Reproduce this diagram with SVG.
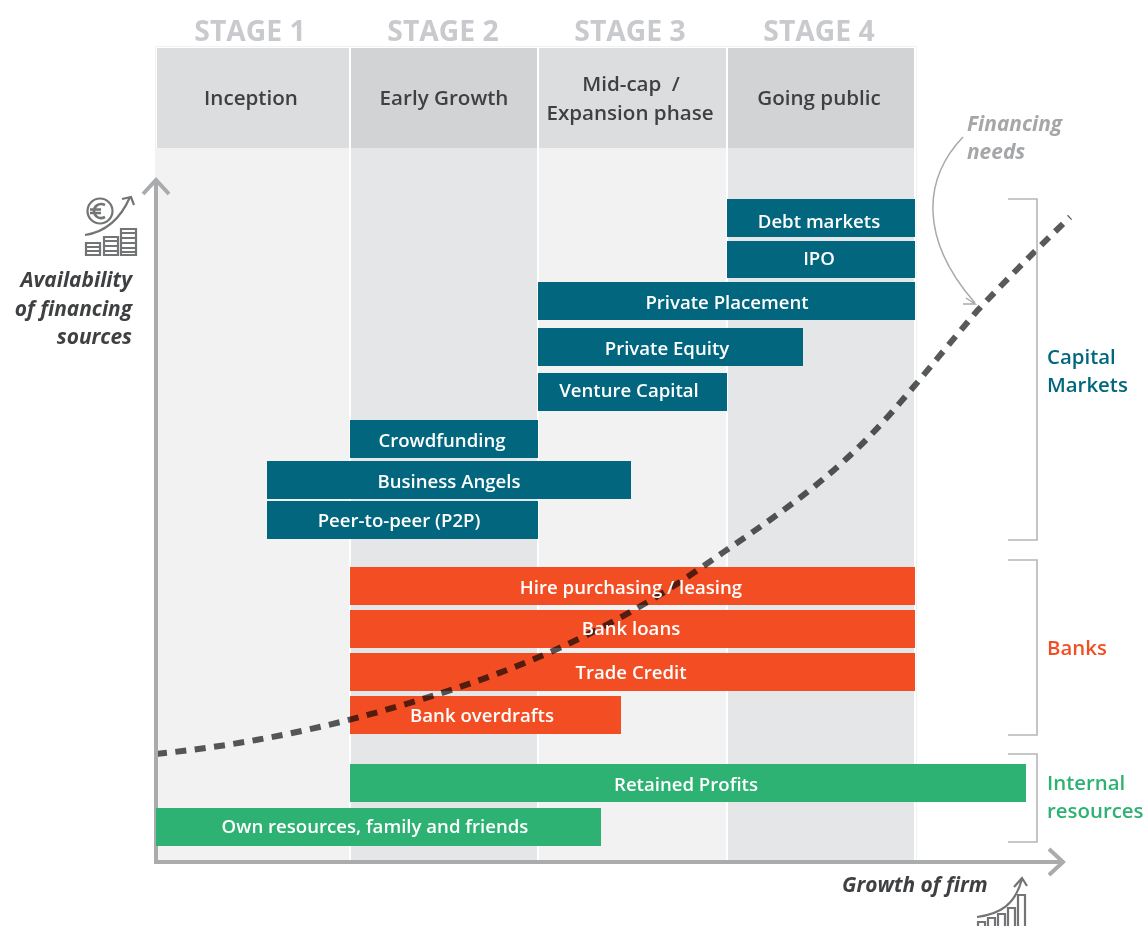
<svg xmlns="http://www.w3.org/2000/svg" width="1144" height="926" viewBox="0 0 1144 926">
<style>
text{font-family:"Open Sans","Liberation Sans",sans-serif;font-weight:600}
.stage{font-size:28.3px;fill:#c8cacd;text-anchor:middle;font-weight:700}
.head{font-size:20.6px;fill:#3f4042;text-anchor:middle}
.bar{font-size:18.6px;fill:#fff;text-anchor:middle}
.ax{font-size:20.9px;fill:#3f4042;font-style:italic;font-weight:700}
.cat{font-size:20.4px}
.br{fill:none;stroke:#b5b6b8;stroke-width:1.6}
.axis{fill:none;stroke:#a9abad;stroke-width:4}
.ic{fill:none;stroke:#737476;stroke-width:2.2}
.teal{fill:#02677e}.red{fill:#f34e23}.green{fill:#2db273}
</style>
<rect width="1144" height="926" fill="#fff"/>
<g id="columns">
<rect x="155.500" y="46.500" width="761" height="816" fill="none" stroke="#f1f2f2"/>
<rect x="156" y="148" width="193" height="714" fill="#f2f2f2"/>
<rect x="351" y="148" width="186" height="714" fill="#e5e6e7"/>
<rect x="539" y="148" width="187" height="714" fill="#f2f2f2"/>
<rect x="728" y="148" width="186" height="714" fill="#e5e6e7"/>
<rect x="157" y="48" width="192" height="100" fill="#dcddde"/>
<rect x="351" y="48" width="186" height="100" fill="#d2d3d5"/>
<rect x="539" y="48" width="187" height="100" fill="#dcddde"/>
<rect x="728" y="48" width="186" height="100" fill="#d2d3d5"/>
</g>
<g id="stages">
<text class="stage" x="250" y="41">STAGE 1</text>
<text class="stage" x="443" y="41">STAGE 2</text>
<text class="stage" x="630" y="41">STAGE 3</text>
<text class="stage" x="819" y="41">STAGE 4</text>
</g>
<g id="headers">
<text class="head" x="251" y="105">Inception</text>
<text class="head" x="444" y="105">Early Growth</text>
<text class="head" x="631" y="91" word-spacing="5">Mid-cap /</text>
<text class="head" x="630" y="120">Expansion phase</text>
<text class="head" x="819" y="105">Going public</text>
</g>
<g id="bar-debt"><rect class="teal" x="727" y="199" width="188" height="38"/><text class="bar" x="819" y="228">Debt markets</text></g>
<g id="bar-ipo"><rect class="teal" x="727" y="241" width="188" height="37"/><text class="bar" x="819" y="265">IPO</text></g>
<g id="bar-placement"><rect class="teal" x="538" y="282" width="377" height="38"/><text class="bar" x="727" y="309">Private Placement</text></g>
<g id="bar-equity"><rect class="teal" x="538" y="328" width="265" height="38"/><text class="bar" x="667" y="355">Private Equity</text></g>
<g id="bar-venture"><rect class="teal" x="538" y="373" width="189" height="38"/><text class="bar" x="629" y="397">Venture Capital</text></g>
<g id="bar-crowd"><rect class="teal" x="350" y="420" width="188" height="38"/><text class="bar" x="442" y="447">Crowdfunding</text></g>
<g id="bar-angels"><rect class="teal" x="267" y="461" width="364" height="38"/><text class="bar" x="449" y="488">Business Angels</text></g>
<g id="bar-p2p"><rect class="teal" x="267" y="501" width="271" height="38"/><text class="bar" x="399" y="527">Peer-to-peer (P2P)</text></g>
<g id="bar-hire"><rect class="red" x="350" y="567" width="565" height="38"/></g>
<g id="bar-loans"><rect class="red" x="350" y="610" width="565" height="38"/></g>
<g id="bar-trade"><rect class="red" x="350" y="653" width="565" height="38"/></g>
<g id="bar-overdraft"><rect class="red" x="350" y="696" width="271" height="38"/></g>
<g id="bar-retained"><rect class="green" x="350" y="764" width="676" height="38"/><text class="bar" x="686" y="791">Retained Profits</text></g>
<g id="connectors">
<path d="M156 754C224 747 292 735 360 717C425 699.500 490 679 555 650C605 627.500 655 600 705 565C767 521.600 830 483 892 412C920 380 949 344 977 311C1007 279 1038 248 1070 217" fill="none" stroke="#58595b" stroke-width="6" stroke-dasharray="11 8.500" style="mix-blend-mode:multiply"/>
<path class="axis" d="M156 862V180M143 194L156 180L169 194"/>
<path class="axis" d="M154 862H1062M1049 849L1063 862L1049 875"/>
<path d="M963 137C922 180 920 240 975 303M966 298L975 304L963 304" fill="none" stroke="#a8a9ab" stroke-width="1.500"/>
<path class="br" d="M1008 199H1037V540H1008"/>
<path class="br" d="M1008 560H1037V735H1008"/>
<path class="br" d="M1008 754H1037V842H1008"/>
</g>
<g id="bar-own"><rect class="green" x="156" y="808" width="445" height="38"/><text class="bar" x="375" y="833">Own resources, family and friends</text></g>
<g id="bar-labels">
<text class="bar" x="631" y="594">Hire purchasing / leasing</text>
<text class="bar" x="631" y="635">Bank loans</text>
<text class="bar" x="631" y="679">Trade Credit</text>
<text class="bar" x="482" y="722">Bank overdrafts</text>
</g>
<g id="labels">
<text class="ax" x="132" y="287" text-anchor="end">Availability</text>
<text class="ax" x="132" y="316" text-anchor="end">of financing</text>
<text class="ax" x="132" y="344" text-anchor="end">sources</text>
<text class="ax" x="842" y="892">Growth of firm</text>
<text class="ax" x="967" y="131" style="fill:#a5a6a8">Financing</text>
<text class="ax" x="967" y="159" style="fill:#a5a6a8">needs</text>
<text class="cat" x="1047" y="364" fill="#02677e">Capital</text>
<text class="cat" x="1047" y="392" fill="#02677e">Markets</text>
<text class="cat" x="1047" y="655" fill="#f34e23">Banks</text>
<text class="cat" x="1047" y="790" fill="#2db273">Internal</text>
<text class="cat" x="1047" y="818" fill="#2db273">resources</text>
</g>
<g id="icon-finance" class="ic">
<circle cx="100" cy="211" r="12.500"/>
<path d="M105 205C98 202 94 207 94 211C94 216 99 220 105 217M90 209.500H101M90 213H101" stroke-width="2.600"/>
<path d="M85 235C105 232 120 220 130 197M122 199L131 197L134 205"/>
<path d="M86 243H100V255H86ZM86 247H100M86 251H100M104 237H118V255H104ZM104 241H118M104 246H118M104 251H118M121 229H136V255H121ZM121 233H136M121 238H136M121 243H136M121 248H136M121 252H136"/>
</g>
<g id="icon-growth" class="ic">
<path d="M977 917C1000 914 1015 905 1022 879M1014 887L1022 878L1027 886"/>
<path d="M978 926V922H985V926M988 926V918H995V926M998 926V914H1005V926M1008 926V908H1015V926M1018 926V895H1025V926"/>
</g>
</svg>
